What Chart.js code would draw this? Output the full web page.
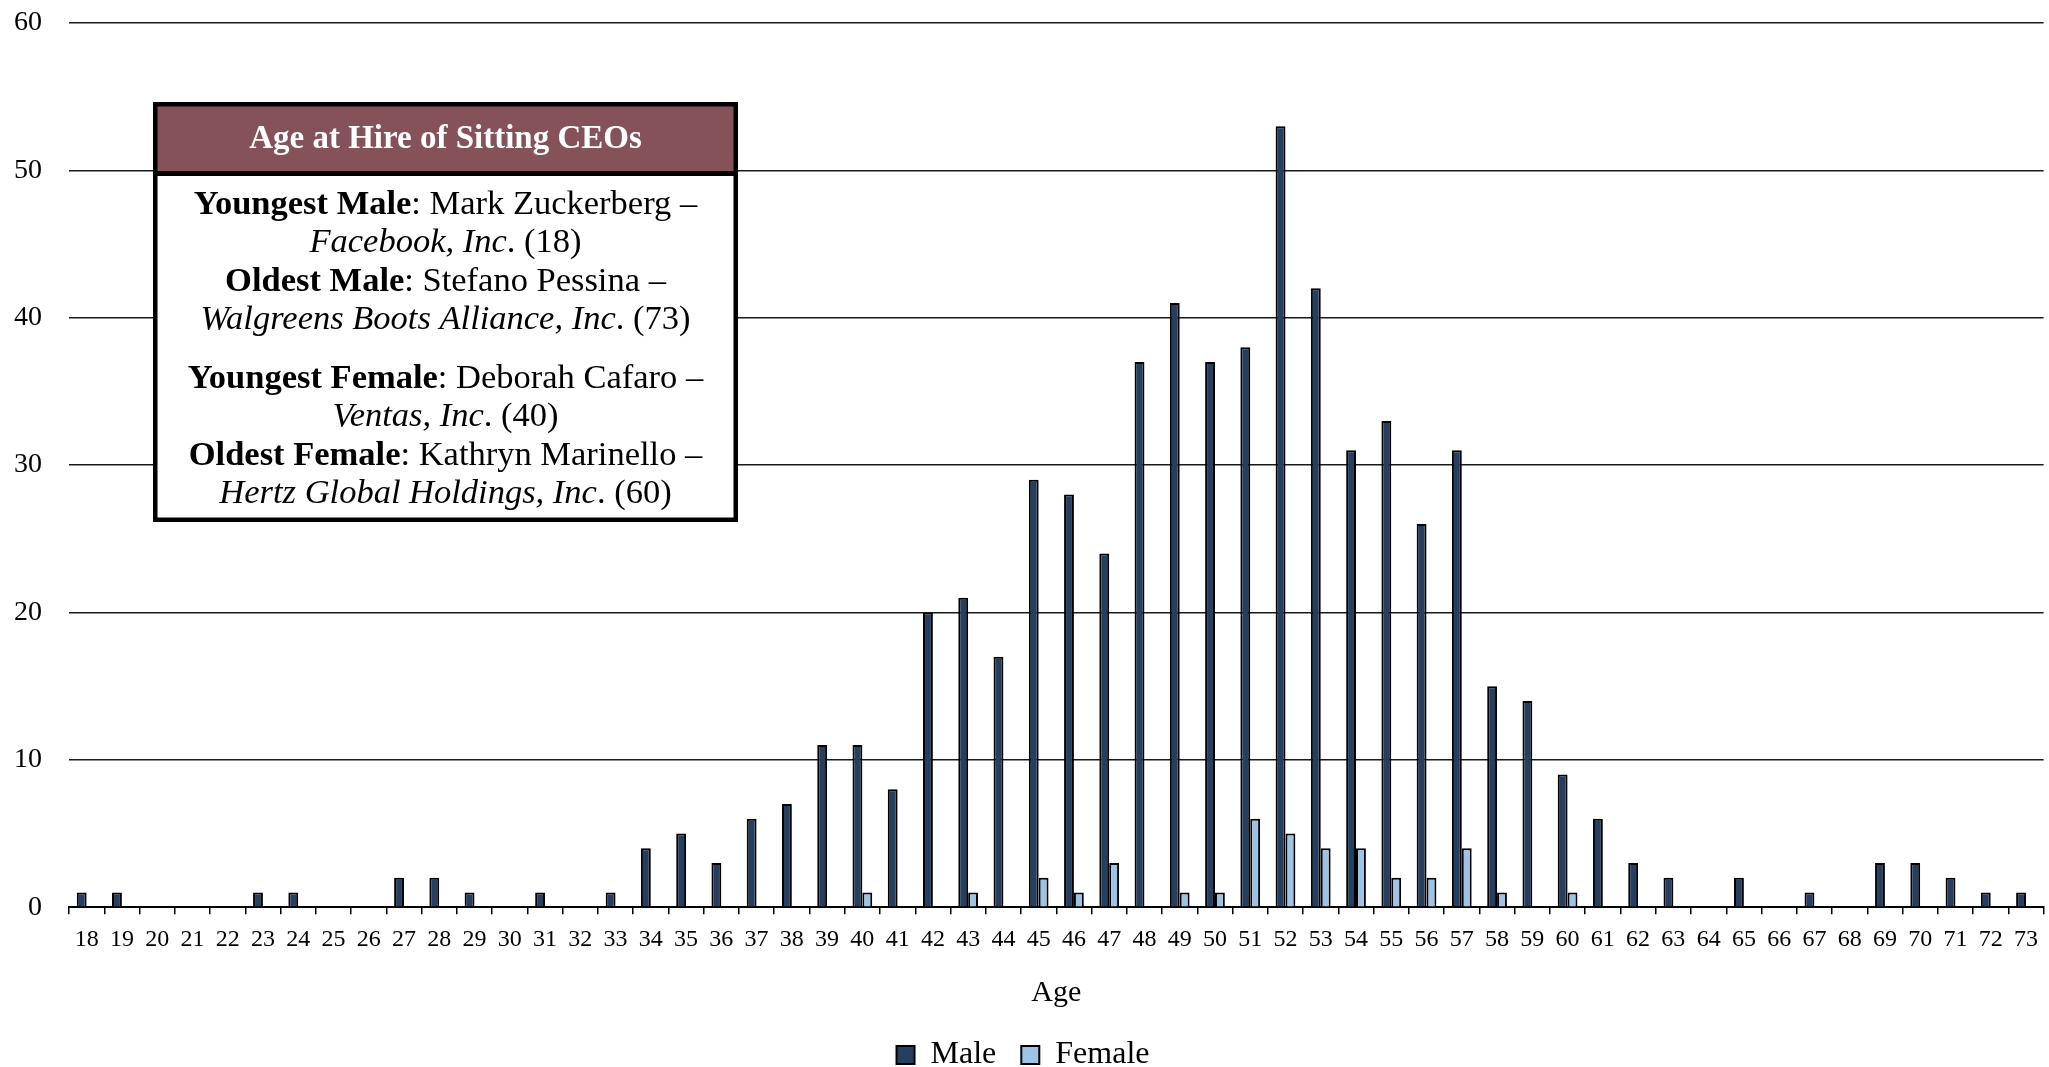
<!DOCTYPE html>
<html>
<head>
<meta charset="utf-8">
<title>Age at Hire of Sitting CEOs</title>
<script src="https://cdn.jsdelivr.net/npm/chart.js@4.4.0/dist/chart.umd.min.js"></script>
<style>
  html, body { margin: 0; padding: 0; background: #fff; overflow: hidden; }
  #wrap { width: 2049px; height: 1067px; overflow: hidden; }
  canvas { display: block; }
</style>
</head>
<body>
<div id="wrap">
  <canvas id="age-chart" width="2049" height="1083"></canvas>
</div>
<script>
// Categories: age at hire
const ageLabels = [
  "18", "19", "20", "21", "22", "23", "24", "25", "26", "27",
  "28", "29", "30", "31", "32", "33", "34", "35", "36", "37",
  "38", "39", "40", "41", "42", "43", "44", "45", "46", "47",
  "48", "49", "50", "51", "52", "53", "54", "55", "56", "57",
  "58", "59", "60", "61", "62", "63", "64", "65", "66", "67",
  "68", "69", "70", "71", "72", "73",
];

// Number of sitting CEOs hired at each age
const maleCounts = [
  1, 1, 0, 0, 0, 1, 1, 0, 0, 2,
  2, 1, 0, 1, 0, 1, 4, 5, 3, 6,
  7, 11, 11, 8, 20, 21, 17, 29, 28, 24,
  37, 41, 37, 38, 53, 42, 31, 33, 26, 31,
  15, 14, 9, 6, 3, 2, 0, 2, 0, 1,
  0, 3, 3, 2, 1, 1,
];
const femaleCounts = [
  0, 0, 0, 0, 0, 0, 0, 0, 0, 0,
  0, 0, 0, 0, 0, 0, 0, 0, 0, 0,
  0, 0, 1, 0, 0, 1, 0, 2, 1, 3,
  0, 1, 1, 6, 5, 4, 4, 2, 2, 4,
  1, 0, 1, 0, 0, 0, 0, 0, 0, 0,
  0, 0, 0, 0, 0, 0,
];

// Y axis ticks
const yAxisMax = 60;
const yAxisStep = 10;

// Text of the call-out box
const infoTitle = "Age at Hire of Sitting CEOs";
const infoLines = [
  [["b", "Youngest Male"], ["n", ": Mark Zuckerberg \u2013"]],
  [["i", "Facebook, Inc"], ["n", ". (18)"]],
  [["b", "Oldest Male"], ["n", ": Stefano Pessina \u2013"]],
  [["i", "Walgreens Boots Alliance, Inc"], ["n", ". (73)"]],
  [["b", "Youngest Female"], ["n", ": Deborah Cafaro \u2013"]],
  [["i", "Ventas, Inc"], ["n", ". (40)"]],
  [["b", "Oldest Female"], ["n", ": Kathryn Marinello \u2013"]],
  [["i", "Hertz Global Holdings, Inc"], ["n", ". (60)"]],
];

const FONT_FAMILY = "'Liberation Serif', 'Times New Roman', serif";

// Font string for a run style
function runFont(style, size) {
  if (style === "b") return "bold " + size + "px " + FONT_FAMILY;
  if (style === "i") return "italic " + size + "px " + FONT_FAMILY;
  return size + "px " + FONT_FAMILY;
}

// Draws the boxed note in the upper left of the chart
const infoBoxPlugin = {
  id: "infoBox",
  afterDraw(chart) {
    const ctx = chart.ctx;
    const left = 153, top = 102, right = 738, bottom = 522;
    const headerBottom = 174;
    const width = right - left;
    const height = bottom - top;
    const cx = (left + right) / 2;

    ctx.save();
    ctx.fillStyle = "#fff";
    ctx.fillRect(left, top, width, height);
    ctx.fillStyle = "#86525A";
    ctx.fillRect(left, top, width, headerBottom - top);

    // outer frame and header separator
    ctx.strokeStyle = "#000";
    ctx.lineWidth = 4.5;
    ctx.strokeRect(left + 2.25, top + 2.25, width - 4.5, height - 4.5);
    ctx.lineWidth = 5;
    ctx.beginPath();
    ctx.moveTo(left, headerBottom - 0.5);
    ctx.lineTo(right, headerBottom - 0.5);
    ctx.stroke();

    // header text
    ctx.fillStyle = "#fff";
    ctx.font = runFont("b", 33);
    ctx.textAlign = "center";
    ctx.textBaseline = "middle";
    ctx.fillText(infoTitle, cx, (top + headerBottom) / 2 + 1);

    // body lines, each made of bold / italic / normal runs
    ctx.fillStyle = "#000";
    ctx.textAlign = "left";
    ctx.textBaseline = "alphabetic";
    const bodySize = 34.5;
    const lineStep = 38.4;
    let baseline = 214;
    infoLines.forEach((runs, i) => {
      if (i === 4) baseline += 20.4;
      let total = 0;
      runs.forEach(([style, text]) => {
        ctx.font = runFont(style, bodySize);
        total += ctx.measureText(text).width;
      });
      let x = cx - total / 2;
      runs.forEach(([style, text]) => {
        ctx.font = runFont(style, bodySize);
        ctx.fillText(text, x, baseline);
        x += ctx.measureText(text).width;
      });
      baseline += lineStep;
    });
    ctx.restore();
  },
};

Chart.defaults.font.family = FONT_FAMILY;
Chart.defaults.color = "#000";

const ctx = document.getElementById("age-chart").getContext("2d");
new Chart(ctx, {
  type: "bar",
  data: {
    labels: ageLabels,
    datasets: [
      {
        label: "Male",
        data: maleCounts,
        backgroundColor: "#243F60",
        borderColor: "#000",
        borderWidth: 2,
        categoryPercentage: 0.56,
        barPercentage: 1,
      },
      {
        label: "Female",
        data: femaleCounts,
        backgroundColor: "#9DC3E6",
        borderColor: "#000",
        borderWidth: 2,
        categoryPercentage: 0.56,
        barPercentage: 1,
      },
    ],
  },
  options: {
    responsive: false,
    animation: false,
    layout: {
      padding: { top: 23, right: 3, bottom: 2, left: 0 },
    },
    plugins: {
      legend: {
        position: "bottom",
        labels: {
          boxWidth: 18,
          boxHeight: 18,
          padding: 25,
          color: "#000",
          font: { size: 32 },
        },
      },
      tooltip: { enabled: false },
    },
    scales: {
      x: {
        grid: {
          display: true,
          drawOnChartArea: false,
          drawTicks: true,
          tickLength: 7,
          offset: true,
          color: "#000",
          lineWidth: 1.5,
        },
        border: { display: true, color: "#000", width: 2 },
        ticks: {
          autoSkip: false,
          maxRotation: 0,
          padding: 11,
          color: "#000",
          font: { size: 24 },
        },
        title: {
          display: true,
          text: "Age",
          color: "#000",
          font: { size: 30 },
          padding: { top: 10, bottom: 3 },
        },
      },
      y: {
        min: 0,
        max: yAxisMax,
        ticks: {
          stepSize: yAxisStep,
          padding: 0,
          color: "#000",
          font: { size: 28 },
        },
        // invisible tick marks keep the labels away from the plot
        grid: {
          color: "#1a1a1a",
          lineWidth: 1.5,
          drawTicks: true,
          tickLength: 27,
          tickColor: "rgba(0,0,0,0)",
        },
        border: { display: false },
        afterFit(scale) {
          scale.width = 69;
        },
      },
    },
  },
  plugins: [infoBoxPlugin],
});
</script>
</body>
</html>
